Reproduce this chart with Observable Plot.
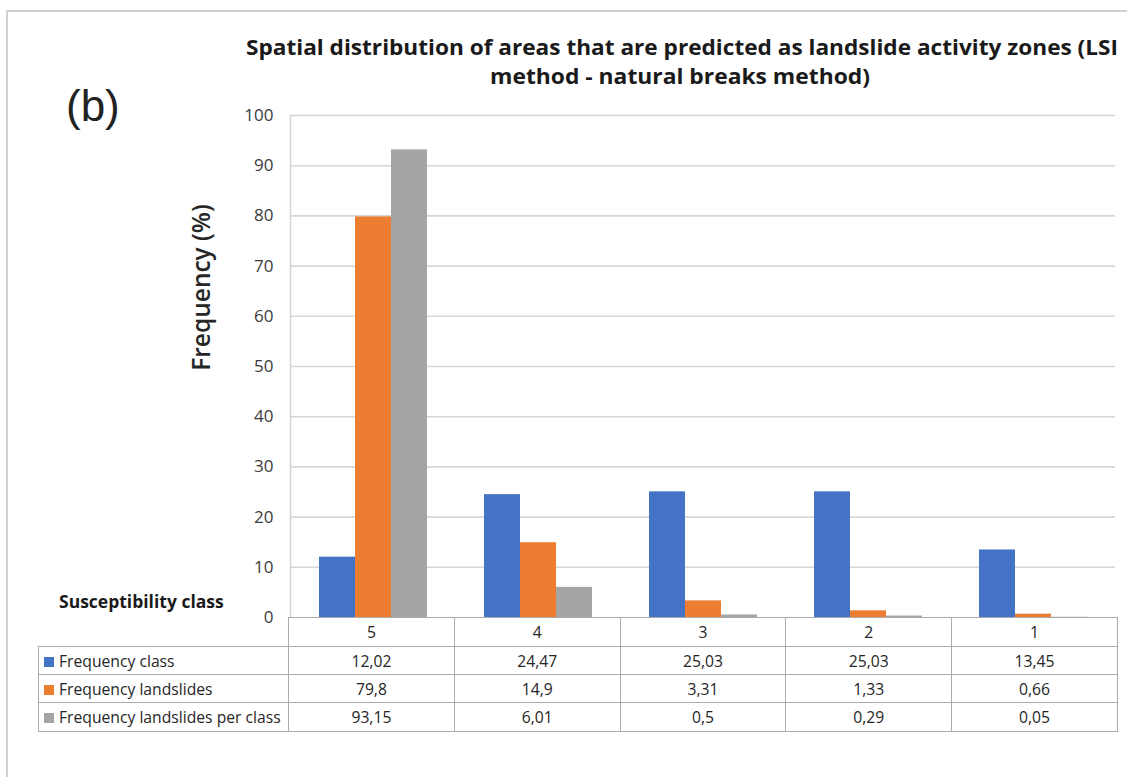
<!DOCTYPE html>
<html>
<head>
<meta charset="utf-8">
<script src="https://cdn.jsdelivr.net/npm/d3@7"></script>
<script src="https://cdn.jsdelivr.net/npm/@observablehq/plot@0.6"></script>
<style>
  body { margin: 0; background: #fff; }
  #fig { position: relative; width: 1127px; height: 777px; overflow: hidden; background: #fff; font-family: "Open Sans", sans-serif; color: #262626; }
  #border { position: absolute; left: 6px; top: 10px; width: 1300px; height: 900px; border-left: 2px solid #d2d2d2; border-top: 2px solid #d2d2d2; }
  #title { position: absolute; left: 0; top: 0; }
  #panel { position: absolute; left: 66px; top: 80px; font: 44px/52px "Liberation Sans", sans-serif; color: #222; }
  #chart { position: absolute; left: 0; top: 0; }
  #xlabel { position: absolute; left: 59px; top: 589px; font: bold 17.5px/24px "Open Sans", sans-serif; color: #1a1a1a; }
  #datatable { position: absolute; left: 38px; top: 617px; border-collapse: collapse; table-layout: fixed; width: 1079px;
               font: 15.7px "Open Sans", sans-serif; color: #262626; }
  #datatable td { border: 1.5px solid #ababab; padding: 0; text-align: center; height: 27px; white-space: nowrap; overflow: hidden; }
  #datatable td.name { text-align: left; padding-left: 5px; }
  #datatable tr.head td.blank { border-top: none; border-left: none; }
  .swatch { display: inline-block; width: 10px; height: 10px; margin-right: 5px; vertical-align: 0px; }
</style>
</head>
<body>
<div id="fig">
  <div id="border"></div>
  <svg id="title" width="1127" height="100" font-family="Open Sans, sans-serif" font-weight="bold" font-size="22" fill="#1a1a1a">
    <text x="682" y="55" text-anchor="middle" textLength="872" lengthAdjust="spacingAndGlyphs">Spatial distribution of areas that are predicted as landslide activity zones (LSI</text>
    <text x="680" y="84" text-anchor="middle" textLength="380" lengthAdjust="spacingAndGlyphs">method - natural breaks method)</text>
  </svg>
  <div id="panel">(b)</div>
  <div id="chart"></div>
  <div id="xlabel">Susceptibility class</div>
  <table id="datatable"></table>
</div>
<script>
// Susceptibility classes, highest to lowest
const classes = ["5", "4", "3", "2", "1"];

// Series shown for each class
const seriesNames = ["Frequency class", "Frequency landslides", "Frequency landslides per class"];
const seriesColors = ["#4472C4", "#ED7D31", "#A5A5A5"];

// Values (%) per class, in the order of `classes`
const frequencyClass = [12.02, 24.47, 25.03, 25.03, 13.45];
const frequencyLandslides = [79.8, 14.9, 3.31, 1.33, 0.66];
const frequencyPerClass = [93.15, 6.01, 0.5, 0.29, 0.05];

// Y axis ticks
const yTicks = [0, 10, 20, 30, 40, 50, 60, 70, 80, 90, 100];

const seriesValues = [frequencyClass, frequencyLandslides, frequencyPerClass];
const rows = classes.flatMap((c, i) =>
  seriesNames.map((s, j) => ({cls: c, series: s, value: seriesValues[j][i]}))
);

const chart = Plot.plot({
  width: 1127,
  height: 620,
  marginTop: 115,
  marginBottom: 3,
  marginLeft: 288,
  marginRight: 11,
  style: {fontFamily: "Open Sans", background: "transparent", overflow: "visible"},
  fx: {domain: classes, padding: 0, axis: null},
  x: {domain: seriesNames, paddingInner: 0, paddingOuter: 0.76, axis: null},
  y: {domain: [0, 100], axis: null},
  color: {domain: seriesNames, range: seriesColors},
  marks: [
    Plot.ruleY(yTicks.slice(1), {stroke: "#d6d6d6", strokeWidth: 1.6}),
    Plot.frame({anchor: "left", facetAnchor: "left", stroke: "#d6d6d6", strokeWidth: 1.6}),
    Plot.barY(rows, {fx: "cls", x: "series", y: "value", fill: "series"}),
    Plot.axisY({ticks: yTicks, tickSize: 0, tickPadding: 17, fontSize: 17, fontWeight: 500, fill: "#3a3a3a", label: null}),
    Plot.text(["Frequency (%)"], {frameAnchor: "left", textAnchor: "middle", dx: -88, dy: -79, rotate: -90,
      fontSize: 24.5, fontWeight: 600, fill: "#262626", facetAnchor: "left"})
  ]
});
document.getElementById("chart").append(chart);

// Data table under the bars: class header row, then one row per series
const fmt = v => String(v).replace(".", ",");
const table = document.getElementById("datatable");
const colgroup = document.createElement("colgroup");
colgroup.innerHTML = `<col style="width:250px">` + classes.map(() => `<col style="width:165.8px">`).join("");
table.append(colgroup);
const head = table.insertRow();
head.className = "head";
const blank = head.insertCell();
blank.className = "blank";
blank.style.borderBottom = "1.5px solid #ababab";
classes.forEach(c => { head.insertCell().textContent = c; });
seriesNames.forEach((s, j) => {
  const tr = table.insertRow();
  const name = tr.insertCell();
  name.className = "name";
  name.innerHTML = `<span class="swatch" style="background:${seriesColors[j]}"></span>${s}`;
  seriesValues[j].forEach(v => { tr.insertCell().textContent = fmt(v); });
});
// Row heights: header row slightly taller than the series rows
Array.from(table.rows).forEach((tr, i) => { tr.style.height = (i === 0 || i === 3 ? 29 : 28) + "px"; });
</script>
</body>
</html>
